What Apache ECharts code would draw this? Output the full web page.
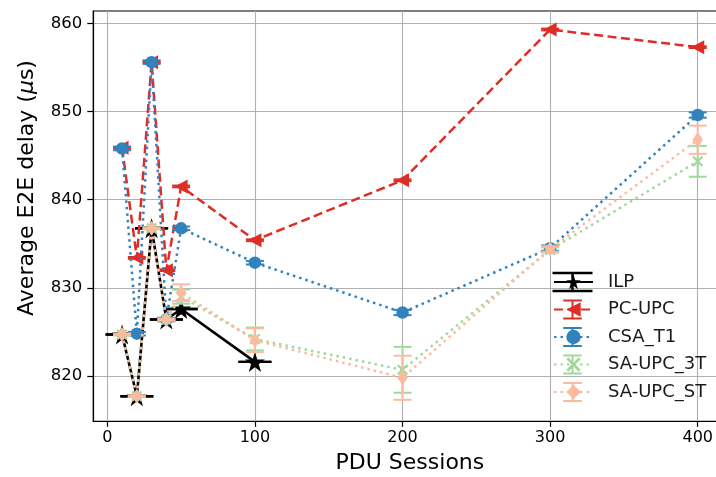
<!DOCTYPE html>
<html>
<head>
<meta charset="utf-8">
<script src="https://cdn.jsdelivr.net/npm/echarts@6/dist/echarts.min.js"></script>
<style>
  html, body { margin: 0; padding: 0; background: #fff; }
  #chart { width: 716px; height: 477px; }
</style>
</head>
<body>
<div id="chart"></div>
<script>
// Number of PDU sessions on the x axis
const sessions = [10, 20, 30, 40, 50, 100, 200, 300, 400];
const ilpSessions = [10, 20, 30, 40, 50, 100];

// Average end-to-end delay (microseconds) and error half-widths per approach
const ilpDelay = [824.7, 817.7, 836.75, 826.4, 827.6, 821.6];
const ilpErr = [0, 0, 0, 0, 0, 0];

const pcUpcDelay = [845.9, 833.4, 855.6, 832.0, 841.5, 835.4, 842.2, 859.3, 857.3];
const pcUpcErr = [0.1, 0.1, 0.1, 0.1, 0.1, 0.1, 0.1, 0.1, 0.1];

const csaT1Delay = [845.8, 824.8, 855.6, 826.4, 836.75, 832.85, 827.2, 834.5, 849.6];
const csaT1Err = [0.2, 0.2, 0.2, 0.2, 0.2, 0.2, 0.3, 0.3, 0.3];

const saUpc3tDelay = [824.7, 817.7, 836.75, 826.4, 829.0, 824.2, 820.7, 834.3, 844.35];
const saUpc3tErr = [0.1, 0.1, 0.1, 0.1, 0.8, 1.3, 2.6, 0.3, 1.75];

const saUpcStDelay = [824.7, 817.7, 836.75, 826.4, 829.45, 824.05, 819.8, 834.4, 846.8];
const saUpcStErr = [0.1, 0.1, 0.1, 0.1, 0.95, 1.35, 2.5, 0.3, 1.6];

// Axis tick values
const xTicks = [0, 100, 200, 300, 400];
const yTicks = [820, 830, 840, 850, 860];

const FONT = 'DejaVu Sans';

const STAR = 'path://M0,-100L22.5,-30.9L95.1,-30.9L36.3,11.8L58.8,80.9L0,38.2L-58.8,80.9L-36.3,11.8L-95.1,-30.9L-22.5,-30.9Z';
const TRI_LEFT = 'path://M0,50L86.6,0L86.6,100Z';
const CROSS = 'path://M0,14L14,0L50,36L86,0L100,14L64,50L100,86L86,100L50,64L14,100L0,86L36,50Z';

const defs = [
  { name: 'ILP', xs: ilpSessions, ys: ilpDelay, errs: ilpErr, color: '#000000',
    symbol: STAR, size: 20, line: 'solid', width: 2.6, cap: 16.5, capWidth: 2.4 },
  { name: 'PC-UPC', xs: sessions, ys: pcUpcDelay, errs: pcUpcErr, color: '#de2d26',
    symbol: TRI_LEFT, size: [13, 14], line: [9, 4.5], width: 2.5, cap: 9, capWidth: 2 },
  { name: 'CSA_T1', xs: sessions, ys: csaT1Delay, errs: csaT1Err, color: '#3182bd',
    symbol: 'circle', size: 12.5, line: [2.5, 4], width: 2.5, cap: 9, capWidth: 2 },
  { name: 'SA-UPC_3T', xs: sessions, ys: saUpc3tDelay, errs: saUpc3tErr, color: '#a1d99b',
    symbol: CROSS, size: 11, line: [2.5, 4], width: 2.5, cap: 9, capWidth: 2 },
  { name: 'SA-UPC_ST', xs: sessions, ys: saUpcStDelay, errs: saUpcStErr, color: '#fcbba1',
    symbol: 'diamond', size: [10.5, 15], line: [2.5, 4], width: 2.5, cap: 9, capWidth: 2 }
];

const series = [];
defs.forEach((d, k) => {
  const z = 3 + k;
  series.push({
    type: 'line',
    name: d.name,
    data: d.xs.map((x, i) => [x, d.ys[i]]),
    symbol: d.symbol,
    symbolSize: d.size,
    showSymbol: true,
    lineStyle: { color: d.color, width: d.width, type: d.line },
    itemStyle: { color: d.color, borderWidth: 0 },
    z: z,
    emphasis: { disabled: true },
    animation: false
  });
  series.push({
    type: 'custom',
    name: d.name + ' error',
    data: d.xs.map((x, i) => [x, d.ys[i] - d.errs[i], d.ys[i] + d.errs[i]]),
    z: z,
    silent: true,
    animation: false,
    renderItem: function (params, api) {
      const x = api.value(0);
      const lo = api.coord([x, api.value(1)]);
      const hi = api.coord([x, api.value(2)]);
      const st = { stroke: d.color, lineWidth: d.capWidth };
      return {
        type: 'group',
        children: [
          { type: 'line', shape: { x1: lo[0], y1: lo[1], x2: hi[0], y2: hi[1] }, style: st },
          { type: 'line', shape: { x1: lo[0] - d.cap, y1: lo[1], x2: lo[0] + d.cap, y2: lo[1] }, style: st },
          { type: 'line', shape: { x1: hi[0] - d.cap, y1: hi[1], x2: hi[0] + d.cap, y2: hi[1] }, style: st }
        ]
      };
    }
  });
});

// Legend layout: rows of icon + label at the lower right of the plot
const LEG_LEFT = 553, LEG_ITEM_W = 39, LEG_ITEM_H = 18, LEG_PITCH = 27.5, LEG_TOP = 273;
const legendCaps = [];
defs.forEach((d, k) => {
  const cx = LEG_LEFT + LEG_ITEM_W / 2;
  const cy = LEG_TOP + LEG_ITEM_H / 2 + k * LEG_PITCH;
  const hw = k === 0 ? 20 : 9.3;
  const hh = 9;
  const st = { stroke: d.color, lineWidth: d.capWidth };
  legendCaps.push(
    { type: 'line', shape: { x1: cx, y1: cy - hh, x2: cx, y2: cy + hh }, style: st, z: 100 },
    { type: 'line', shape: { x1: cx - hw, y1: cy - hh, x2: cx + hw, y2: cy - hh }, style: st, z: 100 },
    { type: 'line', shape: { x1: cx - hw, y1: cy + hh, x2: cx + hw, y2: cy + hh }, style: st, z: 100 }
  );
});

const chart = echarts.init(document.getElementById('chart'), null, { renderer: 'canvas' });
chart.setOption({
  animation: false,
  backgroundColor: '#ffffff',
  textStyle: { fontFamily: FONT },
  grid: {
    // the plot area runs past the right edge of the canvas
    left: 93.3, top: 11, width: 633.2, height: 410.3,
    outerBoundsMode: 'none',
    containLabel: false,
    show: true, borderColor: '#000000', borderWidth: 1.2, backgroundColor: 'transparent'
  },
  xAxis: {
    type: 'value',
    min: -9.5, max: 419.5,
    name: 'PDU Sessions',
    nameLocation: 'middle',
    nameGap: 31,
    nameTextStyle: { fontFamily: FONT, fontSize: 22, color: '#000' },
    axisLine: { show: true, onZero: false, lineStyle: { color: '#000', width: 1.2 } },
    axisTick: { show: true, customValues: xTicks, length: 5.5, lineStyle: { color: '#000', width: 1.2 } },
    axisLabel: { customValues: xTicks, fontFamily: FONT, fontSize: 16, color: '#000', margin: 9 },
    splitLine: { show: true, lineStyle: { color: '#b0b0b0', width: 1.1 } }
  },
  yAxis: {
    type: 'value',
    min: 814.86, max: 861.4,
    axisLine: { show: true, onZero: false, lineStyle: { color: '#000', width: 1.2 } },
    axisTick: { show: true, customValues: yTicks, length: 6, lineStyle: { color: '#000', width: 1.2 } },
    axisLabel: { customValues: yTicks, fontFamily: FONT, fontSize: 16.5, color: '#000', margin: 11 },
    splitLine: { show: true, lineStyle: { color: '#b0b0b0', width: 1.1 } }
  },
  legend: {
    data: defs.map(d => d.name),
    orient: 'vertical',
    left: LEG_LEFT,
    top: LEG_TOP,
    itemWidth: LEG_ITEM_W,
    itemHeight: LEG_ITEM_H,
    itemGap: LEG_PITCH - LEG_ITEM_H,
    padding: 0,
    selectedMode: false,
    textStyle: { fontFamily: FONT, fontSize: 18, color: '#1a1a1a', lineHeight: 18, padding: [0, 0, 0, 10] }
  },
  graphic: [
    {
      type: 'text',
      x: 27, y: 188,
      rotation: Math.PI / 2,
      style: {
        text: 'Average E2E delay ({i|μ}s)',
        font: '22px "DejaVu Sans"',
        fill: '#000',
        align: 'center',
        verticalAlign: 'middle',
        rich: { i: { fontStyle: 'italic', fontSize: 22, fontFamily: FONT, fill: '#000' } }
      }
    }
  ].concat(legendCaps),
  series: series
});
</script>
</body>
</html>
